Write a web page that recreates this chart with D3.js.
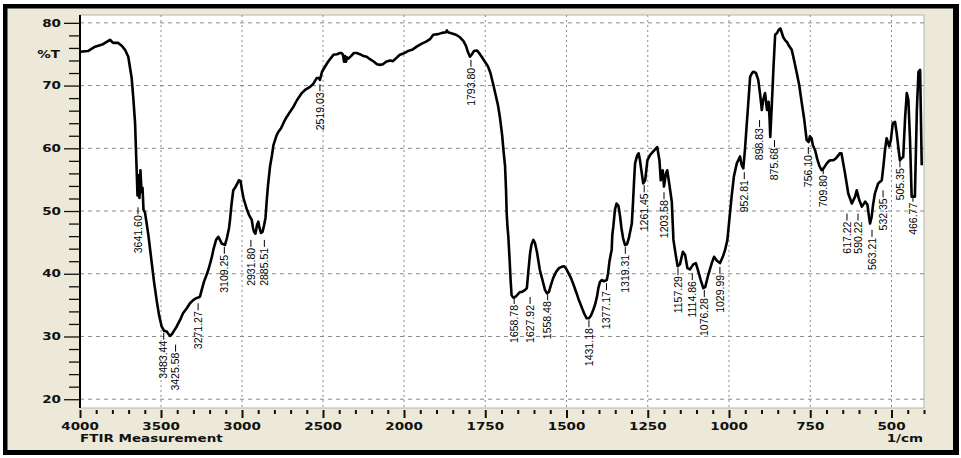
<!DOCTYPE html>
<html lang="en">
<head>
<meta charset="utf-8">
<title>FTIR Measurement</title>
<script src="https://d3js.org/d3.v7.min.js"></script>
<style>
	body { margin: 0; background: #ffffff; }
	svg { display: block; }
	.lab { font-family: "DejaVu Sans", Verdana, sans-serif; font-size: 10px; font-weight: bold; fill: #111; }
	.peak { font-family: "Liberation Sans", Arial, sans-serif; font-size: 10.5px; fill: #000; }
</style>
</head>
<body>
<script>
// spectrum: wavenumber (1/cm) and %T
var wavenumber = [4000,3951,3907,3858,3815,3796,3764,3741,3722,3702,3681,3670,3660,3650,3645,3639,3633,3627,3620,3614,3608,3599,3578,3557,3543,3527,3512,3496,3481,3465,3454,3444,3432,3420,3403,3383,3364,3341,3321,3301,3284,3270,3259,3249,3235,3222,3208,3194,3185,3177,3160,3146,3136,3125,3114,3105,3093,3080,3074,3065,3054,3043,3031,3019,3009,3000,2991,2981,2969,2957,2940,2932,2926,2917,2907,2899,2892,2883,2873,2864,2855,2847,2839,2827,2815,2806,2796,2786,2776,2759,2741,2724,2704,2683,2660,2631,2611,2580,2562,2539,2525,2519,2506,2488,2469,2457,2436,2414,2395,2385,2377,2370,2364,2358,2352,2344,2327,2309,2292,2272,2250,2230,2210,2185,2167,2148,2130,2111,2086,2068,2043,2025,2004,1988,1975,1961,1948,1932,1920,1910,1895,1883,1871,1868,1865,1852,1840,1828,1817,1809,1803,1797,1791,1785,1776,1769,1760,1751,1742,1734,1725,1718,1711,1705,1698,1694,1689,1686,1684,1682,1679,1675,1672,1669,1664,1658,1652,1643,1637,1628,1622,1617,1612,1608,1602,1597,1591,1582,1574,1566,1560,1554,1548,1541,1532,1523,1515,1508,1502,1494,1486,1478,1469,1462,1452,1445,1438,1431,1425,1418,1412,1406,1402,1397,1391,1385,1376,1372,1368,1363,1361,1359,1356,1351,1346,1340,1335,1331,1326,1320,1314,1308,1299,1295,1292,1289,1283,1278,1274,1264,1258,1251,1243,1233,1221,1214,1210,1204,1200,1194,1190,1184,1176,1171,1163,1158,1151,1142,1135,1128,1120,1110,1102,1094,1087,1079,1073,1064,1053,1046,1038,1028,1019,1012,1005,999,992,985,976,966,961,956,951,946,940,935,929,925,917,910,904,899,895,889,883,878,875,873,869,863,858,852,847,842,838,833,827,821,815,807,800,791,784,776,769,761,755,751,746,742,735,729,722,715,709,699,692,686,679,671,663,659,654,643,633,622,612,607,599,591,581,574,570,566,561,557,551,541,530,525,520,515,507,502,496,489,484,478,474,469,464,458,453,448,443,438,428,422,417,412,407];
var transmittance = [75.4,75.5,76.2,76.6,77.3,76.8,76.8,76.3,75.7,74.6,71.2,67.7,64.0,56.3,52.5,55.7,52.1,56.5,53.0,53.7,50.2,49.8,46.2,41.7,38.7,35.8,33.4,31.6,30.9,30.8,30.4,30.1,30.4,30.9,31.6,32.6,33.7,34.5,35.3,35.8,36.1,36.2,36.4,37.4,38.7,39.6,40.6,41.9,42.8,43.8,45.4,45.9,45.4,44.8,44.7,44.6,45.7,47.3,48.6,51.0,53.3,53.7,54.3,54.9,54.8,53.3,52.1,51.2,50.2,49.4,48.6,47.3,46.7,46.4,47.8,48.3,47.3,46.5,46.7,47.7,48.9,51.8,54.2,57.1,58.9,60.5,61.3,62.1,62.6,63.2,64.2,65.0,65.8,66.6,67.7,68.8,69.3,69.8,70.2,71.2,71.2,70.9,72.2,73.0,73.8,74.2,74.9,75.0,75.2,75.2,74.9,73.8,74.7,73.8,74.5,74.3,74.7,75.2,75.2,75.0,74.7,74.6,74.2,73.8,73.4,73.3,73.4,73.8,74.0,73.9,74.5,74.9,75.1,75.5,75.7,76.2,76.6,77.0,77.4,78.1,78.2,78.4,78.5,78.8,78.5,78.3,78.1,77.7,77.1,76.3,75.3,74.6,75.0,75.5,75.6,75.2,74.5,73.8,73.1,72.0,70.1,68.5,66.9,65.0,62.1,59.7,57.1,53.3,49.6,47.8,45.9,42.2,39.0,36.6,36.2,36.3,36.6,37.1,37.1,37.4,37.7,40.6,43.3,44.6,45.4,44.9,43.5,40.6,39.0,37.4,36.9,37.1,38.2,39.3,40.3,40.9,41.1,41.2,40.9,40.1,39.3,38.2,36.9,35.8,34.5,33.6,32.9,32.9,33.3,34.2,35.1,36.4,37.7,38.7,39.0,38.8,39.0,40.1,41.9,43.3,43.8,46.2,47.5,50.2,51.2,50.8,49.1,47.3,45.7,44.6,44.7,45.7,48.0,51.7,54.9,57.6,58.8,59.2,58.1,54.4,54.9,58.1,58.9,59.5,60.2,58.1,54.9,56.5,53.9,56.0,56.5,54.4,51.5,45.4,42.7,41.2,41.5,43.5,43.0,40.9,40.7,41.5,41.7,40.3,39.0,37.7,37.9,39.8,41.7,42.7,42.1,41.7,42.7,43.8,45.4,48.6,52.3,55.5,57.6,58.7,57.3,56.8,59.7,63.4,67.7,71.4,72.0,72.2,72.0,70.9,68.5,66.1,67.7,68.8,66.1,67.4,64.5,61.8,66.1,73.0,78.1,78.4,78.9,79.1,78.5,77.7,77.2,76.9,76.3,75.7,74.1,71.9,70.1,67.2,64.8,61.3,61.0,61.9,61.6,60.5,59.7,58.4,57.2,56.5,56.8,57.6,58.0,58.1,58.1,58.4,58.9,59.2,59.2,56.0,52.8,51.2,52.3,53.3,51.7,50.7,51.5,51.0,49.4,48.0,49.1,50.9,52.8,54.4,54.9,57.1,59.7,61.6,60.3,61.3,64.0,64.2,62.4,59.7,58.1,58.4,58.6,65.0,68.8,67.7,61.3,52.3,52.3,66.1,72.2,72.5,57.3];

// peak labels, where they sit on the chart (1/cm) and the %T at the top of each label
var peakNames = ["3641.60","3483.44","3425.58","3271.27","3109.25","2931.80","2885.51","2519.03","1793.80","1658.78","1627.92","1558.48","1431.18","1377.17","1319.31","1261.45","1203.58","1157.29","1114.86","1076.28","1029.99","952.81","898.83","875.68","756.10","709.80","617.22","590.22","563.21","532.35","505.35","466.77"];
var peakAt = [3642,3483,3410,3271,3109,2945,2862,2519,1794,1661,1612,1558,1431,1377,1319,1261,1200,1157,1113,1076,1028,953,906,860,756,710,637,603,560,526,474,434];
var peakTop = [50.6,30.6,28.7,35.3,44.3,45.4,45.4,70.2,74.1,36.3,36.3,36.9,32.6,38.5,44.3,54.1,53.0,40.9,40.1,37.4,41.1,56.2,64.5,61.3,60.2,57.0,49.6,49.6,47.0,53.3,58.1,52.6];

// axis ticks
var xMajor = [4000,3500,3000,2500,2000,1750,1500,1250,1000,750,500];
var xMinor = [3900,3800,3700,3600,3400,3300,3200,3100,2900,2800,2700,2600,2400,2300,2200,2100,1950,1900,1850,1800,1700,1650,1600,1550,1450,1400,1350,1300,1200,1150,1100,1050,950,900,850,800,700,650,600,550,450,400];
var yMajor = [20,30,40,50,60,70,80];
var yMinor = [22,24,26,28,32,34,36,38,42,44,46,48,52,54,56,58,62,64,66,68,72,74,76,78];

var w = 961, h = 458;
var plotL = 80, plotT = 15, plotR = 924, plotB = 408;

// FTIR scale: 2x expansion below 2000 1/cm
var x = d3.scaleLinear().domain([4000, 2000, 400]).range([plotL, 404, plotR]);
var y = d3.scaleLinear().domain([18.6, 81.25]).range([plotB, plotT]);

var svg = d3.select("body").append("svg")
	.attr("width", w)
	.attr("height", h);

// window frame
svg.append("rect").attr("x", 3).attr("y", 4).attr("width", 956).attr("height", 451).attr("fill", "#000");
svg.append("rect").attr("x", 7.5).attr("y", 8.5).attr("width", 945.5).attr("height", 441.5).attr("fill", "#ece9d8");

// plot area
svg.append("rect")
	.attr("x", plotL).attr("y", plotT)
	.attr("width", plotR - plotL).attr("height", plotB - plotT)
	.attr("fill", "#fff")
	.attr("stroke", "#b4b4b4");

// grid
svg.append("g").selectAll("line").data(yMajor).enter().append("line")
	.attr("x1", plotL).attr("x2", plotR)
	.attr("y1", function(d) { return y(d); })
	.attr("y2", function(d) { return y(d); })
	.attr("stroke", "#8a8a8a")
	.attr("stroke-dasharray", "4,4");

svg.append("g").selectAll("line").data(xMajor.slice(1)).enter().append("line")
	.attr("y1", plotT).attr("y2", plotB)
	.attr("x1", function(d) { return x(d); })
	.attr("x2", function(d) { return x(d); })
	.attr("stroke", "#8a8a8a")
	.attr("stroke-dasharray", "2,3");

// y axis
var gy1 = svg.append("g").attr("transform", "translate(" + plotL + ",0)")
	.call(d3.axisLeft(y).tickValues(yMinor).tickSize(11).tickFormat(""));
var gy2 = svg.append("g").attr("transform", "translate(" + plotL + ",0)")
	.call(d3.axisLeft(y).tickValues(yMajor).tickSize(16).tickFormat(""));
[gy1, gy2].forEach(function(g) {
	g.select(".domain").remove();
	g.selectAll("line").attr("stroke", "#111").attr("stroke-width", 1.3);
});
svg.append("line")
	.attr("x1", plotL).attr("x2", plotL)
	.attr("y1", plotT).attr("y2", plotB)
	.attr("stroke", "#000").attr("stroke-width", 2);

// x axis
var gx1 = svg.append("g").attr("transform", "translate(0," + (plotB + 2) + ")")
	.call(d3.axisBottom(x).tickValues(xMinor).tickSize(4).tickFormat(""));
var gx2 = svg.append("g").attr("transform", "translate(0," + (plotB + 2) + ")")
	.call(d3.axisBottom(x).tickValues(xMajor).tickSize(8).tickFormat(""));
[gx1, gx2].forEach(function(g) {
	g.select(".domain").remove();
	g.selectAll("line").attr("stroke", "#111").attr("stroke-width", 2);
});

// axis text, stretched like the original bitmap font
function stretched(tx, ty, anchor, str) {
	svg.append("text")
		.attr("class", "lab")
		.attr("text-anchor", anchor)
		.attr("transform", "translate(" + tx + "," + ty + ") scale(1.35,1)")
		.text(str);
}
yMajor.forEach(function(v) { stretched(61, y(v) + 3.7, "end", v); });
xMajor.forEach(function(v) { stretched(x(v), 430, "middle", v); });
stretched(60, y(75) + 3.7, "end", "%T");
stretched(plotL, 442, "start", "FTIR Measurement");
stretched(923, 442, "end", "1/cm");

// spectrum
var spectrum = wavenumber.map(function(d, i) { return [d, transmittance[i]]; });
var line = d3.line()
	.x(function(d) { return x(d[0]); })
	.y(function(d) { return y(d[1]); });

svg.append("path")
	.datum(spectrum)
	.attr("d", line)
	.attr("fill", "none")
	.attr("stroke", "#000")
	.attr("stroke-width", 2.6)
	.attr("stroke-linejoin", "round");

// peak labels
var peaks = svg.append("g").selectAll("g")
	.data(peakNames.map(function(d, i) { return {name: d, at: peakAt[i], t: peakTop[i]}; }))
	.enter().append("g")
	.attr("transform", function(d) { return "translate(" + x(d.at) + "," + y(d.t) + ")"; });

peaks.append("line")
	.attr("x1", 0).attr("x2", 0)
	.attr("y1", 0).attr("y2", 7)
	.attr("stroke", "#000");

peaks.append("text")
	.attr("class", "peak")
	.attr("text-anchor", "end")
	.attr("dy", "0.35em")
	.attr("transform", "translate(0,8) rotate(-90)")
	.text(function(d) { return d.name; });
</script>
</body>
</html>
